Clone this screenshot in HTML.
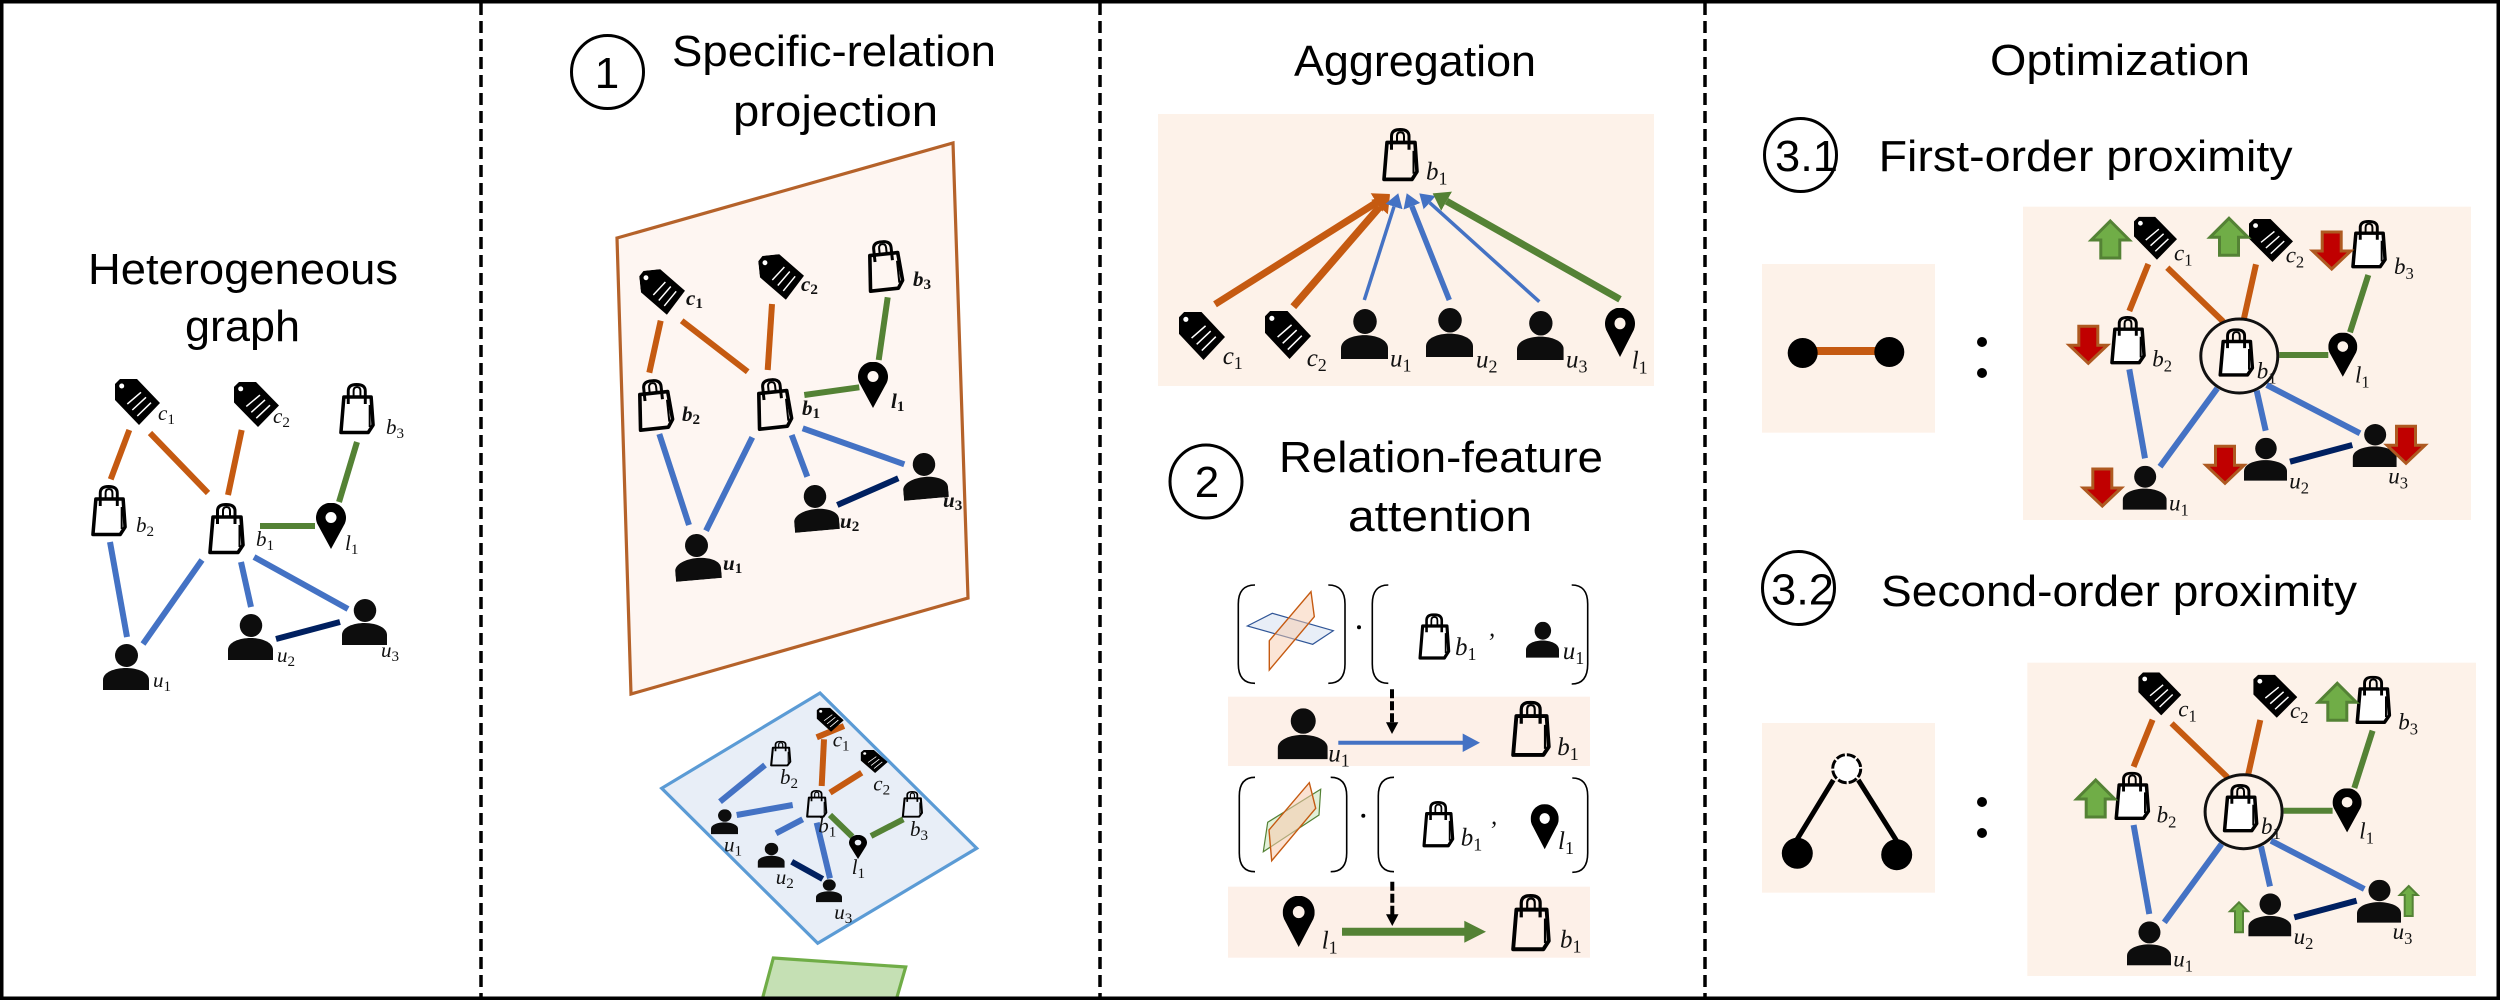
<!DOCTYPE html>
<html><head><meta charset="utf-8"><style>
html,body{margin:0;padding:0;background:#fff}
svg{display:block}
.t{font-family:"Liberation Sans",sans-serif;font-size:44px;fill:#000}
.m{font-family:"Liberation Serif",serif;font-style:italic;fill:#111}
.s{font-style:normal;font-size:72%}
.eo{stroke:#C55A11;stroke-width:6;fill:none}
.eb{stroke:#4472C4;stroke-width:6;fill:none}
.eg{stroke:#548235;stroke-width:6;fill:none}
.en{stroke:#002060;stroke-width:6;fill:none}
.par{fill:none;stroke:#000;stroke-width:1.6}
.up{fill:#70AD47;stroke:#548235;stroke-width:3}
.dn{fill:#C00000;stroke:#AE5A21;stroke-width:3}
.w{--f:#fff}
</style></head><body>
<svg xmlns="http://www.w3.org/2000/svg" width="2500" height="1000" viewBox="0 0 2500 1000">
<defs>
<symbol id="bag" viewBox="0 0 38 52" preserveAspectRatio="none">
<path d="M5 14H33L35 42L30 49.5H2Z" stroke="#000" stroke-width="3.6" stroke-linejoin="round" style="fill:var(--f,none)"/>
<path d="M31.5 22V44" stroke="#000" stroke-width="2" fill="none"/>
<path d="M9.5 21V8Q9.5 1.5 18 1.5Q27 1.5 27 8V21" stroke="#000" stroke-width="3" fill="none"/>
<path d="M15 14V8Q15 4 18.5 4Q22 4 22 8V14" stroke="#000" stroke-width="2" fill="none"/>
</symbol>
<symbol id="per" viewBox="0 0 46 46" preserveAspectRatio="none">
<circle cx="23.5" cy="11.5" r="11.5" fill="#0d0d0d"/>
<path d="M0 46V36C0 28 12 24 23 24C34 24 46 28 46 36V46Z" fill="#0d0d0d"/>
</symbol>
<symbol id="tag" viewBox="0 0 45 46" preserveAspectRatio="none">
<path d="M0 5L5 0H22L45 24L24 46L0 21Z" fill="#000"/>
<circle cx="6.7" cy="7" r="2.5" fill="#fff"/>
<path d="M12.3 25L26 13.3M17.3 31L31 18.3M22.3 37L36 23.7" stroke="#fff" stroke-width="1.5" fill="none"/>
</symbol>
<symbol id="pin" viewBox="0 0 30 46" preserveAspectRatio="none">
<path fill-rule="evenodd" fill="#000" d="M15 46L2.5 23A15 15 0 1 1 27.5 23ZM15 9A5.5 5.5 0 1 0 15 20A5.5 5.5 0 1 0 15 9Z"/>
</symbol>
<marker id="ao" markerUnits="userSpaceOnUse" markerWidth="20" markerHeight="26" viewBox="0 -13 20 26" refX="0" refY="0" orient="auto"><path d="M0 -11L16 0L0 11Z" fill="#C55A11"/></marker>
<marker id="ag" markerUnits="userSpaceOnUse" markerWidth="20" markerHeight="26" viewBox="0 -13 20 26" refX="0" refY="0" orient="auto"><path d="M0 -11L16 0L0 11Z" fill="#548235"/></marker>
<marker id="ab" markerUnits="userSpaceOnUse" markerWidth="20" markerHeight="26" viewBox="0 -13 20 26" refX="0" refY="0" orient="auto"><path d="M0 -9L14 0L0 9Z" fill="#4472C4"/></marker>
<path id="upa" d="M0 0L19 19H9.5V37H-9.5V19H-19Z"/>
<path id="dna" d="M0 0L-19 -18H-9.5V-37H9.5V-18H19Z"/>
<path id="ups" d="M0 0L9 9H4V30H-4V9H-9Z"/>
</defs>

<!-- dividers -->
<line x1="481" y1="3" x2="481" y2="997" stroke="#000" stroke-width="3.5" stroke-dasharray="12 6"/>
<line x1="1100" y1="3" x2="1100" y2="997" stroke="#000" stroke-width="3.5" stroke-dasharray="12 6"/>
<line x1="1705" y1="3" x2="1705" y2="997" stroke="#000" stroke-width="3.5" stroke-dasharray="12 6"/>

<!-- Panel 1 -->
<text class="t" x="88" y="284" textLength="310" lengthAdjust="spacingAndGlyphs">Heterogeneous</text>
<text class="t" x="185" y="341" textLength="115" lengthAdjust="spacingAndGlyphs">graph</text>
<g>
<line class="eo" x1="129.3" y1="430" x2="110.7" y2="479.3"/>
<line class="eo" x1="150" y1="433" x2="208" y2="493"/>
<line class="eo" x1="241.7" y1="430" x2="228" y2="495"/>
<line class="eg" x1="357" y1="442" x2="339" y2="502"/>
<line class="eg" x1="260" y1="526" x2="315" y2="526"/>
<line class="eb" x1="110" y1="542" x2="127" y2="637"/>
<line class="eb" x1="202" y1="560" x2="143" y2="644"/>
<line class="eb" x1="241" y1="562" x2="251" y2="607"/>
<line class="eb" x1="254" y1="557" x2="348" y2="609"/>
<line class="en" x1="276" y1="639" x2="340" y2="622"/>
<use href="#tag" x="115" y="379" width="45" height="46"/>
<use href="#tag" x="234" y="382" width="45" height="45"/>
<use href="#bag" x="339" y="383" width="37" height="52"/>
<use href="#bag" x="91" y="485" width="37" height="52"/>
<use href="#bag" x="208" y="503" width="38" height="52"/>
<use href="#pin" x="316" y="503" width="30" height="46"/>
<use href="#per" x="103" y="644" width="46" height="46"/>
<use href="#per" x="228" y="614" width="45" height="46"/>
<use href="#per" x="342" y="599" width="45" height="46"/>
<g class="m" font-size="21">
<text x="158" y="420">c<tspan class="s" dy="4">1</tspan></text>
<text x="273" y="423">c<tspan class="s" dy="4">2</tspan></text>
<text x="386" y="434">b<tspan class="s" dy="4">3</tspan></text>
<text x="136" y="532">b<tspan class="s" dy="4">2</tspan></text>
<text x="256" y="546">b<tspan class="s" dy="4">1</tspan></text>
<text x="345" y="550">l<tspan class="s" dy="4">1</tspan></text>
<text x="153" y="687">u<tspan class="s" dy="4">1</tspan></text>
<text x="277" y="662">u<tspan class="s" dy="4">2</tspan></text>
<text x="381" y="657">u<tspan class="s" dy="4">3</tspan></text>
</g>
</g>

<!-- Panel 2 -->
<ellipse cx="607.5" cy="72" rx="36" ry="36.5" fill="none" stroke="#000" stroke-width="3"/>
<text class="t" x="607" y="88" text-anchor="middle">1</text>
<text class="t" x="672" y="66" textLength="324" lengthAdjust="spacingAndGlyphs">Specific-relation</text>
<text class="t" x="733" y="126" textLength="205" lengthAdjust="spacingAndGlyphs">projection</text>

<polygon points="617,238 953,143 968,598 631,694" fill="#FEF6F2" stroke="#B5622A" stroke-width="3.2"/>
<g>
<line class="eo" x1="660.7" y1="320.7" x2="649.3" y2="372.7"/>
<line class="eo" x1="681.7" y1="320.7" x2="747.7" y2="371.7"/>
<line class="eo" x1="772" y1="304" x2="767.7" y2="370"/>
<line class="eg" x1="887.7" y1="297.3" x2="878.7" y2="360"/>
<line class="eg" x1="804.3" y1="395" x2="859.3" y2="387.3"/>
<line class="eb" x1="659.3" y1="434" x2="689" y2="525"/>
<line class="eb" x1="752.3" y1="437.3" x2="706" y2="530.7"/>
<line class="eb" x1="791.7" y1="435" x2="807.3" y2="476.7"/>
<line class="eb" x1="802.7" y1="428.3" x2="904.3" y2="464.3"/>
<line class="en" x1="837.3" y1="505" x2="898.3" y2="478.3"/>
<use href="#bag" x="755" y="378" width="38" height="52" transform="rotate(-6 774 404)"/>
<use href="#bag" x="636" y="379" width="38" height="52" transform="rotate(-6 655 405)"/>
<use href="#bag" x="866" y="240" width="38" height="52" transform="rotate(-6 885 266)"/>
<use href="#tag" x="641" y="269" width="44" height="46" transform="rotate(-6 663 292)"/>
<use href="#tag" x="760" y="254" width="44" height="46" transform="rotate(-6 782 277)"/>
<use href="#pin" x="858" y="362" width="30" height="46"/>
<use href="#per" x="674" y="534" width="46" height="46" transform="rotate(-5 697 557)"/>
<use href="#per" x="793" y="485" width="45" height="46" transform="rotate(-5 815 508)"/>
<use href="#per" x="902" y="453" width="45" height="46" transform="rotate(-5 924 476)"/>
<g class="m" font-size="21" font-weight="bold">
<text x="686" y="305">c<tspan class="s" dy="3">1</tspan></text>
<text x="801" y="291">c<tspan class="s" dy="3">2</tspan></text>
<text x="913" y="286">b<tspan class="s" dy="3">3</tspan></text>
<text x="682" y="421">b<tspan class="s" dy="3">2</tspan></text>
<text x="802" y="415">b<tspan class="s" dy="3">1</tspan></text>
<text x="891" y="408">l<tspan class="s" dy="3">1</tspan></text>
<text x="723" y="570">u<tspan class="s" dy="3">1</tspan></text>
<text x="840" y="528">u<tspan class="s" dy="3">2</tspan></text>
<text x="943" y="507">u<tspan class="s" dy="3">3</tspan></text>
</g>
</g>

<polygon points="820,693 976.7,848.3 817.7,943.3 661.7,788.3" fill="#E8EEF7" stroke="#5B9BD5" stroke-width="3.2"/>
<g>
<line class="eo" x1="816.7" y1="737.3" x2="844" y2="726"/>
<line class="eo" x1="824" y1="739.3" x2="821.7" y2="786"/>
<line class="eo" x1="830" y1="792.7" x2="861.7" y2="772.7"/>
<line class="eb" x1="765" y1="765" x2="720" y2="801.7"/>
<line class="eb" x1="736.7" y1="815" x2="792.7" y2="805"/>
<line class="eb" x1="776" y1="833.3" x2="802.7" y2="819.3"/>
<line class="eb" x1="816.7" y1="822.7" x2="830" y2="878.3"/>
<line class="en" x1="791.7" y1="861.7" x2="822.7" y2="879"/>
<line class="eg" x1="830" y1="815" x2="852.3" y2="836.7"/>
<line class="eg" x1="871" y1="836" x2="903.3" y2="819.3"/>
<use href="#tag" x="816.7" y="707.7" width="27" height="24"/>
<use href="#tag" x="860.7" y="750" width="27" height="23"/>
<use href="#bag" x="770" y="740.7" width="22" height="26"/>
<use href="#bag" x="806" y="790" width="22" height="28"/>
<use href="#bag" x="901.7" y="791" width="22" height="27"/>
<use href="#per" x="711" y="809.3" width="27" height="25"/>
<use href="#per" x="757.7" y="842.7" width="27" height="25"/>
<use href="#per" x="816" y="879.3" width="26" height="23"/>
<use href="#pin" x="849" y="835" width="18" height="24"/>
<g class="m" font-size="21">
<text x="832.7" y="746.7">c<tspan class="s" dy="4">1</tspan></text>
<text x="873.3" y="790.7">c<tspan class="s" dy="4">2</tspan></text>
<text x="780" y="784">b<tspan class="s" dy="4">2</tspan></text>
<text x="818.3" y="832.7">b<tspan class="s" dy="4">1</tspan></text>
<text x="910" y="836">b<tspan class="s" dy="4">3</tspan></text>
<text x="724" y="851.7">u<tspan class="s" dy="4">1</tspan></text>
<text x="775.7" y="884">u<tspan class="s" dy="4">2</tspan></text>
<text x="834.3" y="919">u<tspan class="s" dy="4">3</tspan></text>
<text x="851.7" y="874">l<tspan class="s" dy="4">1</tspan></text>
</g>
</g>
<polygon points="773.3,958 905.7,967 895,1004 761,1004" fill="#C5E0B4" stroke="#70AD47" stroke-width="3.2"/>

<!-- Panel 3 -->
<text class="t" x="1294" y="76" textLength="242" lengthAdjust="spacingAndGlyphs">Aggregation</text>
<rect x="1158" y="114" width="496" height="272" fill="#FDF2E9"/>
<line x1="1215" y1="304.3" x2="1376.5" y2="202.5" stroke="#C55A11" stroke-width="7" marker-end="url(#ao)"/>
<line x1="1293.3" y1="306.7" x2="1379.5" y2="207.1" stroke="#C55A11" stroke-width="7.5" marker-end="url(#ao)"/>
<line x1="1364.3" y1="300" x2="1394" y2="206.6" stroke="#4472C4" stroke-width="3.5" marker-end="url(#ab)"/>
<line x1="1449.3" y1="300" x2="1411.9" y2="206.3" stroke="#4472C4" stroke-width="5.5" marker-end="url(#ab)"/>
<line x1="1539.3" y1="301.7" x2="1429.7" y2="202.7" stroke="#4472C4" stroke-width="3.5" marker-end="url(#ab)"/>
<line x1="1620" y1="299.3" x2="1446.6" y2="201.2" stroke="#548235" stroke-width="7" marker-end="url(#ag)"/>
<use href="#bag" x="1382" y="128" width="38" height="54"/>
<use href="#tag" x="1179" y="312" width="46" height="48"/>
<use href="#tag" x="1265" y="311" width="46" height="48"/>
<use href="#per" x="1341" y="309" width="47" height="50"/>
<use href="#per" x="1426" y="308" width="47" height="49"/>
<use href="#per" x="1517" y="311" width="46.7" height="49"/>
<use href="#pin" x="1605" y="308" width="30" height="49"/>
<g class="m" font-size="25">
<text x="1426" y="179.3">b<tspan class="s" dy="5">1</tspan></text>
<text x="1222.7" y="364">c<tspan class="s" dy="5">1</tspan></text>
<text x="1306.7" y="366">c<tspan class="s" dy="5">2</tspan></text>
<text x="1390" y="366.7">u<tspan class="s" dy="5">1</tspan></text>
<text x="1476" y="367.3">u<tspan class="s" dy="5">2</tspan></text>
<text x="1566" y="367.3">u<tspan class="s" dy="5">3</tspan></text>
<text x="1631.7" y="368.3">l<tspan class="s" dy="5">1</tspan></text>
</g>

<ellipse cx="1206" cy="481.5" rx="36" ry="36.5" fill="none" stroke="#000" stroke-width="3"/>
<text class="t" x="1207" y="497" text-anchor="middle">2</text>
<text class="t" x="1279" y="472" textLength="324" lengthAdjust="spacingAndGlyphs">Relation-feature</text>
<text class="t" x="1348" y="531" textLength="184" lengthAdjust="spacingAndGlyphs">attention</text>

<!-- attention -->
<rect x="1228" y="696.7" width="362" height="69.3" fill="#FDF0E8"/>
<rect x="1228" y="886.7" width="362" height="71" fill="#FDF0E8"/>
<path class="par" d="M1255 585Q1238.3 585 1238.3 604V664Q1238.3 683.3 1255 683.3"/>
<path class="par" d="M1328.3 585Q1345 585 1345 604V664Q1345 683.3 1328.3 683.3"/>
<path class="par" d="M1388.3 585Q1372.3 585 1372.3 604V664Q1372.3 683.3 1388.3 683.3"/>
<path class="par" d="M1571.7 585Q1587.7 585 1587.7 604V664Q1587.7 684 1571.7 684"/>
<path class="par" d="M1255 777.3Q1239.3 777.3 1239.3 796V853Q1239.3 871.7 1255 871.7"/>
<path class="par" d="M1330.7 777.3Q1346.7 777.3 1346.7 796V853Q1346.7 871.7 1330.7 871.7"/>
<path class="par" d="M1394 777.3Q1378.3 777.3 1378.3 796V853Q1378.3 871.7 1394 871.7"/>
<path class="par" d="M1572.3 778Q1587.7 778 1587.7 796V853Q1587.7 872.3 1572.3 872.3"/>
<polygon points="1247.3,626 1272.3,613.3 1333.3,630.7 1312.7,644.3" fill="#E8EEF7" stroke="#2F5597" stroke-width="1.2"/>
<polygon points="1311,591.7 1314.3,616.7 1269.3,670 1269.3,640.7" fill="#F8CBAD" fill-opacity=".5" stroke="#C55A11" stroke-width="1.4"/>
<polygon points="1267.7,822.3 1320.7,789.3 1319,815 1263.3,851.7" fill="#E2F0D9" stroke="#548235" stroke-width="1.2"/>
<polygon points="1309.3,782.7 1315.7,808.3 1271.7,860.7 1269,830" fill="#F8CBAD" fill-opacity=".55" stroke="#C55A11" stroke-width="1.4"/>
<circle cx="1359" cy="627.3" r="2"/>
<circle cx="1363.3" cy="815.7" r="2"/>
<use href="#bag" x="1418.3" y="613.3" width="33" height="47"/>
<use href="#per" x="1526" y="621.7" width="33" height="36"/>
<use href="#bag" x="1422.3" y="801" width="33" height="47"/>
<use href="#pin" x="1530.7" y="804.3" width="28" height="45"/>
<use href="#per" x="1277.7" y="708.3" width="50" height="51"/>
<use href="#bag" x="1511" y="700.7" width="41" height="57"/>
<use href="#pin" x="1282.7" y="896" width="32" height="51"/>
<use href="#bag" x="1511" y="894" width="41" height="58"/>
<line x1="1338.3" y1="742.7" x2="1464" y2="742.7" stroke="#4472C4" stroke-width="4"/>
<polygon points="1462.7,733.5 1480,742.7 1462.7,752" fill="#4472C4"/>
<line x1="1342" y1="931.7" x2="1465" y2="931.7" stroke="#548235" stroke-width="8"/>
<polygon points="1464.3,920.7 1486,931.7 1464.3,942.7" fill="#548235"/>
<line x1="1392" y1="689.3" x2="1392" y2="723" stroke="#000" stroke-width="4" stroke-dasharray="9 3"/>
<polygon points="1386,722.3 1398.3,722.3 1392,734"/>
<line x1="1392.3" y1="881.7" x2="1392.3" y2="915" stroke="#000" stroke-width="4" stroke-dasharray="9 3"/>
<polygon points="1386,914.3 1398.5,914.3 1392.3,926"/>
<g class="m" font-size="25">
<text x="1455" y="655">b<tspan class="s" dy="5">1</tspan></text>
<text x="1489" y="636">,</text>
<text x="1562.7" y="659">u<tspan class="s" dy="5">1</tspan></text>
<text x="1460.7" y="845.7">b<tspan class="s" dy="5">1</tspan></text>
<text x="1491" y="824">,</text>
<text x="1558" y="849">l<tspan class="s" dy="5">1</tspan></text>
<text x="1328.3" y="761.7">u<tspan class="s" dy="5">1</tspan></text>
<text x="1557.3" y="755">b<tspan class="s" dy="5">1</tspan></text>
<text x="1321.7" y="948.3">l<tspan class="s" dy="5">1</tspan></text>
<text x="1560" y="947.3">b<tspan class="s" dy="5">1</tspan></text>
</g>

<!-- Panel 4 -->
<text class="t" x="1990" y="75" textLength="260" lengthAdjust="spacingAndGlyphs">Optimization</text>
<ellipse cx="1800.5" cy="155" rx="36" ry="36.5" fill="none" stroke="#000" stroke-width="3"/>
<text class="t" x="1775" y="171" textLength="63" lengthAdjust="spacingAndGlyphs">3.1</text>
<text class="t" x="1878.6" y="171" textLength="414" lengthAdjust="spacingAndGlyphs">First-order proximity</text>
<ellipse cx="1798.5" cy="588" rx="36" ry="36.5" fill="none" stroke="#000" stroke-width="3"/>
<text class="t" x="1771" y="604.6" textLength="63" lengthAdjust="spacingAndGlyphs">3.2</text>
<text class="t" x="1881" y="606" textLength="476" lengthAdjust="spacingAndGlyphs">Second-order proximity</text>

<rect x="1762" y="264" width="173" height="168.7" fill="#FDF2E9"/>
<line x1="1815" y1="351" x2="1878" y2="351" stroke="#C55A11" stroke-width="8"/>
<circle cx="1802.7" cy="353" r="15"/>
<circle cx="1889.3" cy="352" r="15"/>
<circle cx="1982" cy="342" r="5"/>
<circle cx="1982" cy="373" r="5"/>

<rect x="1762" y="723" width="173" height="169.7" fill="#FDF2E9"/>
<line x1="1833.3" y1="780" x2="1796.7" y2="840" stroke="#000" stroke-width="5"/>
<line x1="1858.3" y1="780" x2="1896.7" y2="841" stroke="#000" stroke-width="5"/>
<circle cx="1797.3" cy="853.3" r="15.5"/>
<circle cx="1896.7" cy="854.7" r="15.5"/>
<circle cx="1846.7" cy="768.7" r="14" fill="#fff" stroke="#000" stroke-width="3" stroke-dasharray="9 2"/>
<circle cx="1982" cy="802" r="5"/>
<circle cx="1982" cy="833" r="5"/>

<rect x="2023" y="206.7" width="448" height="313.3" fill="#FDF2E9"/>
<rect x="2027.3" y="662.7" width="448.7" height="313.3" fill="#FDF2E9"/>

<g id="g31">
<g class="m" font-size="23">
<text x="2174" y="260.7">c<tspan class="s" dy="5">1</tspan></text>
<text x="2285.7" y="262.3">c<tspan class="s" dy="5">2</tspan></text>
<text x="2394" y="274">b<tspan class="s" dy="5">3</tspan></text>
<text x="2152.3" y="366.7">b<tspan class="s" dy="5">2</tspan></text>
<text x="2256.7" y="378.3">b<tspan class="s" dy="5">1</tspan></text>
<text x="2355" y="382.7">l<tspan class="s" dy="5">1</tspan></text>
<text x="2169" y="510.7">u<tspan class="s" dy="5">1</tspan></text>
<text x="2289.3" y="488.3">u<tspan class="s" dy="5">2</tspan></text>
<text x="2388.3" y="483.3">u<tspan class="s" dy="5">3</tspan></text>
</g>
<line class="eo" x1="2148.3" y1="264" x2="2129.3" y2="311"/>
<line class="eo" x1="2167.3" y1="267.7" x2="2223.3" y2="321.7"/>
<line class="eo" x1="2256" y1="264.3" x2="2244" y2="318.3"/>
<line class="eg" x1="2368.3" y1="275" x2="2350" y2="332.3"/>
<line class="eg" x1="2279.3" y1="355" x2="2328.3" y2="355"/>
<line class="eb" x1="2129.3" y1="369.3" x2="2145" y2="458.3"/>
<line class="eb" x1="2217.3" y1="388.3" x2="2160" y2="466.7"/>
<line class="eb" x1="2256.7" y1="390.7" x2="2265.7" y2="430.7"/>
<line class="eb" x1="2266.7" y1="385" x2="2360" y2="433.3"/>
<line class="en" x1="2290" y1="461.7" x2="2352.3" y2="445"/>
<ellipse cx="2239.3" cy="356" rx="38.5" ry="37" fill="none" stroke="#111" stroke-width="3"/>
<use href="#tag" x="2134" y="216.7" width="43" height="43"/>
<use href="#tag" x="2249" y="219" width="44" height="43"/>
<use href="#bag" class="w" x="2351" y="220" width="37" height="49"/>
<use href="#bag" class="w" x="2110" y="316" width="37" height="49"/>
<use href="#bag" class="w" x="2218.3" y="328.3" width="37" height="49"/>
<use href="#pin" x="2328.3" y="332.7" width="29" height="44"/>
<use href="#per" x="2122.7" y="465.7" width="44" height="44"/>
<use href="#per" x="2244" y="437.7" width="43" height="43"/>
<use href="#per" x="2352.7" y="424" width="44" height="43"/>
</g>
<use href="#upa" class="up" x="2110.3" y="221"/>
<use href="#upa" class="up" x="2229" y="218.3"/>
<use href="#dna" class="dn" x="2331.7" y="269"/>
<use href="#dna" class="dn" x="2088.3" y="363.3"/>
<use href="#dna" class="dn" x="2102.3" y="506"/>
<use href="#dna" class="dn" x="2225" y="483.3"/>
<use href="#dna" class="dn" x="2406" y="463.3"/>

<g transform="translate(4.3,455.7)">
<g class="m" font-size="23">
<text x="2174" y="260.7">c<tspan class="s" dy="5">1</tspan></text>
<text x="2285.7" y="262.3">c<tspan class="s" dy="5">2</tspan></text>
<text x="2394" y="274">b<tspan class="s" dy="5">3</tspan></text>
<text x="2152.3" y="366.7">b<tspan class="s" dy="5">2</tspan></text>
<text x="2256.7" y="378.3">b<tspan class="s" dy="5">1</tspan></text>
<text x="2355" y="382.7">l<tspan class="s" dy="5">1</tspan></text>
<text x="2169" y="510.7">u<tspan class="s" dy="5">1</tspan></text>
<text x="2289.3" y="488.3">u<tspan class="s" dy="5">2</tspan></text>
<text x="2388.3" y="483.3">u<tspan class="s" dy="5">3</tspan></text>
</g>
<line class="eo" x1="2148.3" y1="264" x2="2129.3" y2="311"/>
<line class="eo" x1="2167.3" y1="267.7" x2="2223.3" y2="321.7"/>
<line class="eo" x1="2256" y1="264.3" x2="2244" y2="318.3"/>
<line class="eg" x1="2368.3" y1="275" x2="2350" y2="332.3"/>
<line class="eg" x1="2279.3" y1="355" x2="2328.3" y2="355"/>
<line class="eb" x1="2129.3" y1="369.3" x2="2145" y2="458.3"/>
<line class="eb" x1="2217.3" y1="388.3" x2="2160" y2="466.7"/>
<line class="eb" x1="2256.7" y1="390.7" x2="2265.7" y2="430.7"/>
<line class="eb" x1="2266.7" y1="385" x2="2360" y2="433.3"/>
<line class="en" x1="2290" y1="461.7" x2="2352.3" y2="445"/>
<ellipse cx="2239.3" cy="356" rx="38.5" ry="37" fill="none" stroke="#111" stroke-width="3"/>
<use href="#tag" x="2134" y="216.7" width="43" height="43"/>
<use href="#tag" x="2249" y="219" width="44" height="43"/>
<use href="#bag" class="w" x="2351" y="220" width="37" height="49"/>
<use href="#bag" class="w" x="2110" y="316" width="37" height="49"/>
<use href="#bag" class="w" x="2218.3" y="328.3" width="37" height="49"/>
<use href="#pin" x="2328.3" y="332.7" width="29" height="44"/>
<use href="#per" x="2122.7" y="465.7" width="44" height="44"/>
<use href="#per" x="2244" y="437.7" width="43" height="43"/>
<use href="#per" x="2352.7" y="424" width="44" height="43"/>
</g>
<use href="#upa" class="up" x="2337.3" y="683.3"/>
<use href="#upa" class="up" x="2095.7" y="780"/>
<use href="#ups" class="up" style="stroke-width:2" x="2239" y="902.3"/>
<use href="#ups" class="up" style="stroke-width:2" x="2408.7" y="886"/>

<rect x="1.75" y="1.75" width="2496.5" height="996.5" fill="none" stroke="#000" stroke-width="3.5"/>
</svg>
</body></html>
